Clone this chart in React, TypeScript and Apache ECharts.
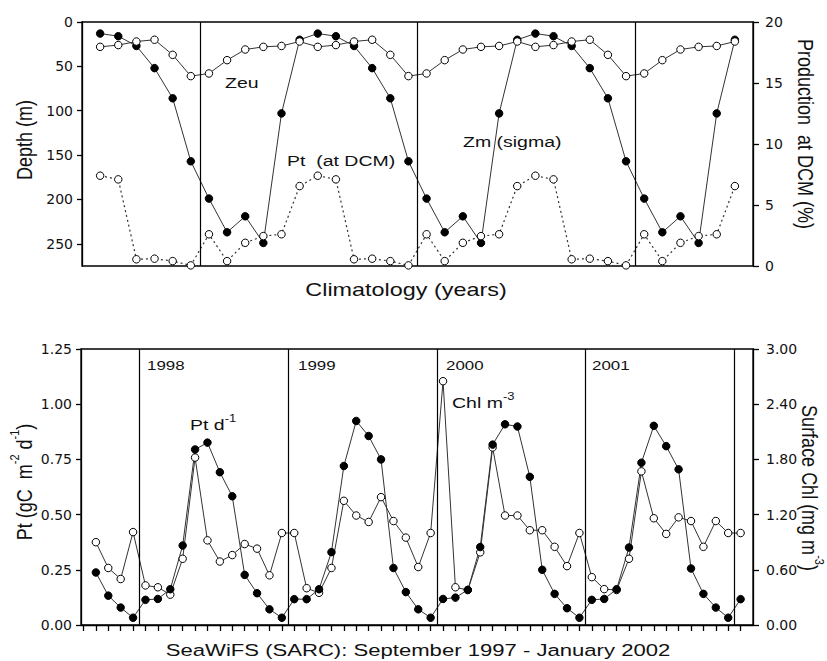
import React, { useEffect, useRef } from "react";
import * as echarts from "echarts";

// ---------- Top panel: climatology (3 repeated years, monthly) ----------
const climMonthIndex = [
  0, 1, 2, 3, 4, 5, 6, 7, 8, 9, 10, 11, 12, 13, 14, 15, 16, 17,
  18, 19, 20, 21, 22, 23, 24, 25, 26, 27, 28, 29, 30, 31, 32, 33, 34, 35,
];
const zmDepth = [
  13, 16, 27, 52, 86, 157, 199, 237, 219, 249, 103, 20,
  13, 16, 27, 52, 86, 157, 199, 237, 219, 249, 103, 20,
  13, 16, 27, 52, 86, 157, 199, 237, 219, 249, 103, 20,
];
const zeuDepth = [
  28, 26, 22, 20, 37, 61, 58, 43, 31, 28, 27, 22,
  28, 26, 22, 20, 37, 61, 58, 43, 31, 28, 27, 22,
  28, 26, 22, 20, 37, 61, 58, 43, 31, 28, 27, 22,
];
const ptDcmPercent = [
  7.4, 7.1, 0.55, 0.6, 0.4, 0.05, 2.6, 0.4, 1.9, 2.45, 2.6, 6.55,
  7.4, 7.1, 0.55, 0.6, 0.4, 0.05, 2.6, 0.4, 1.9, 2.45, 2.6, 6.55,
  7.4, 7.1, 0.55, 0.6, 0.4, 0.05, 2.6, 0.4, 1.9, 2.45, 2.6, 6.55,
];
const climYearBreaks = [5.5, 17.5, 29.5];
const depthTicks = [0, 50, 100, 150, 200, 250];

// ---------- Bottom panel: SeaWiFS Sep 1997 - Jan 2002 ----------
const seawifsMonthIndex = [
  0, 1, 2, 3, 4, 5, 6, 7, 8, 9, 10, 11, 12, 13, 14, 15, 16, 17, 18, 19,
  20, 21, 22, 23, 24, 25, 26, 27, 28, 29, 30, 31, 32, 33, 34, 35, 36, 37,
  38, 39, 40, 41, 42, 43, 44, 45, 46, 47, 48, 49, 50, 51, 52,
];
const ptDaily = [
  0.238, 0.133, 0.079, 0.033,
  0.114, 0.118, 0.162, 0.36, 0.795, 0.826, 0.692, 0.583, 0.227, 0.144, 0.071, 0.033,
  0.117, 0.117, 0.162, 0.33, 0.72, 0.924, 0.856, 0.75, 0.258, 0.149, 0.071, 0.033,
  0.118, 0.124, 0.159, 0.353, 0.817, 0.909, 0.899, 0.671, 0.25, 0.141, 0.076, 0.033,
  0.114, 0.118, 0.162, 0.351, 0.735, 0.902, 0.81, 0.705, 0.256, 0.141, 0.079, 0.033,
  0.117,
];
const surfaceChl = [
  0.9, 0.62, 0.5, 1.01,
  0.43, 0.41, 0.33, 0.72, 1.82, 0.92, 0.69, 0.76, 0.88, 0.83, 0.54, 1.0,
  1.0, 0.4, 0.35, 0.62, 1.35, 1.19, 1.12, 1.39, 1.13, 0.95, 0.63, 1.0,
  2.65, 0.41, 0.38, 0.79, 1.93, 1.19, 1.19, 1.03, 1.03, 0.85, 0.64, 1.0,
  0.52, 0.39, 0.38, 0.72, 1.67, 1.16, 0.99, 1.17, 1.13, 0.85, 1.13, 1.0,
  1.0,
];
const seawifsYearBreaks = [3.5, 15.5, 27.5, 39.5, 51.5];
const seawifsTickMonths = [
  -1, 0, 1, 2, 3, 4, 5, 6, 7, 8, 9, 10, 11, 12, 13, 14, 15, 16, 17, 18, 19,
  20, 21, 22, 23, 24, 25, 26, 27, 28, 29, 30, 31, 32, 33, 34, 35, 36, 37,
  38, 39, 40, 41, 42, 43, 44, 45, 46, 47, 48, 49, 50, 51, 52,
];
const yearLabels = ["1998", "1999", "2000", "2001"];
const yearLabelX = [147, 298, 446, 592];

const FONT = "'Liberation Sans', Arial, sans-serif";
const TICKFONT = "'DejaVu Sans', sans-serif";
const INK = "#111";
const LINE = "#333";
const SX = 1.3;

const zip = (xs: number[], ys: number[]) => xs.map((x, i) => [x, ys[i]]);

function text(x: number, y: number, s: string, size: number, align = "left", extra: any = {}) {
  return {
    type: "text",
    x,
    y,
    scaleX: SX,
    silent: true,
    style: {
      text: s,
      fontSize: size,
      fontFamily: FONT,
      fill: INK,
      align,
      textAlign: align,
      verticalAlign: "middle",
      textVerticalAlign: "middle",
    },
    ...extra,
  };
}

function richText(x: number, y: number, s: string, size: number, supSize: number, align: string, rotation = 0, scaleRot = false) {
  return {
    type: "text",
    x,
    y,
    rotation,
    scaleX: scaleRot ? 1 : SX,
    scaleY: scaleRot ? 1.2 : 1,
    silent: true,
    style: {
      text: s,
      fontSize: size,
      fontFamily: FONT,
      fill: INK,
      align,
      textAlign: align,
      verticalAlign: "middle",
      textVerticalAlign: "middle",
      rich: {
        a: { fontSize: size, fontFamily: FONT, fill: INK, lineHeight: size + 8 },
        s: { fontSize: supSize, fontFamily: FONT, fill: INK, lineHeight: supSize + 2, verticalAlign: "top" },
      },
    },
  };
}

const openSymbol = { color: "#fff", borderColor: "#000", borderWidth: 1 };
const filledSymbol = { color: "#000", borderColor: "#000", borderWidth: 1 };

const axisLabelStyle = { color: INK, fontSize: 14, fontFamily: TICKFONT };
const axisLineStyle = { show: true, onZero: false, lineStyle: { color: "#000", width: 1.3 } };

function breakLines(values: number[]) {
  return {
    silent: true,
    symbol: ["none", "none"],
    label: { show: false },
    lineStyle: { color: "#000", width: 1.2, type: "solid" },
    data: values.map((v) => ({ xAxis: v })),
  };
}

const option: any = {
  animation: false,
  backgroundColor: "#fff",
  grid: [
    { left: 82, right: 74, top: 22, height: 244, show: true, borderColor: "#000", borderWidth: 1.3 },
    { left: 81, right: 74, top: 349, height: 276, show: true, borderColor: "#000", borderWidth: 1.3 },
  ],
  xAxis: [
    {
      gridIndex: 0, type: "value", min: -1, max: 36,
      axisLine: { show: false, onZero: false }, axisTick: { show: false }, axisLabel: { show: false }, splitLine: { show: false },
    },
    {
      gridIndex: 1, type: "value", min: -1.2, max: 53,
      axisLine: axisLineStyle,
      axisTick: { show: true, length: 6, customValues: seawifsTickMonths, lineStyle: { color: "#000", width: 1.3 } },
      axisLabel: { show: false }, splitLine: { show: false },
    },
  ],
  yAxis: [
    {
      gridIndex: 0, type: "value", inverse: true, min: 0, max: 275, position: "left",
      axisLine: axisLineStyle,
      axisTick: { show: true, length: 5, customValues: depthTicks, lineStyle: { color: "#000", width: 1.3 } },
      axisLabel: { ...axisLabelStyle, margin: 9, customValues: depthTicks },
      splitLine: { show: false },
    },
    {
      gridIndex: 0, type: "value", min: 0, max: 20, interval: 5, position: "right",
      axisLine: axisLineStyle,
      axisTick: { show: true, length: 6, lineStyle: { color: "#000", width: 1.3 } },
      axisLabel: { ...axisLabelStyle, margin: 12 },
      splitLine: { show: false },
    },
    {
      gridIndex: 1, type: "value", min: 0, max: 1.25, interval: 0.25, position: "left",
      axisLine: axisLineStyle,
      axisTick: { show: true, length: 5, lineStyle: { color: "#000", width: 1.3 } },
      axisLabel: { ...axisLabelStyle, margin: 9, formatter: (v: number) => v.toFixed(2) },
      splitLine: { show: false },
    },
    {
      gridIndex: 1, type: "value", min: 0, max: 3, interval: 0.6, position: "right",
      axisLine: axisLineStyle,
      axisTick: { show: true, length: 6, lineStyle: { color: "#000", width: 1.3 } },
      axisLabel: { ...axisLabelStyle, margin: 13, formatter: (v: number) => v.toFixed(2) },
      splitLine: { show: false },
    },
  ],
  series: [
    {
      name: "Zm (sigma)", type: "line", xAxisIndex: 0, yAxisIndex: 0,
      data: zip(climMonthIndex, zmDepth),
      symbol: "circle", symbolSize: 7.5, itemStyle: filledSymbol,
      lineStyle: { color: LINE, width: 1 },
      markLine: breakLines(climYearBreaks),
    },
    {
      name: "Zeu", type: "line", xAxisIndex: 0, yAxisIndex: 0,
      data: zip(climMonthIndex, zeuDepth),
      symbol: "circle", symbolSize: 7.5, itemStyle: openSymbol,
      lineStyle: { color: LINE, width: 1 },
    },
    {
      name: "Pt (at DCM)", type: "line", xAxisIndex: 0, yAxisIndex: 1,
      data: zip(climMonthIndex, ptDcmPercent),
      symbol: "circle", symbolSize: 7.5, itemStyle: openSymbol,
      lineStyle: { color: LINE, width: 1.2, type: [2, 3] },
    },
    {
      name: "Chl", type: "line", xAxisIndex: 1, yAxisIndex: 3,
      data: zip(seawifsMonthIndex, surfaceChl),
      symbol: "circle", symbolSize: 7.5, itemStyle: openSymbol,
      lineStyle: { color: LINE, width: 1 },
      markLine: breakLines(seawifsYearBreaks),
    },
    {
      name: "Pt", type: "line", xAxisIndex: 1, yAxisIndex: 2,
      data: zip(seawifsMonthIndex, ptDaily),
      symbol: "circle", symbolSize: 7.5, itemStyle: filledSymbol,
      lineStyle: { color: LINE, width: 1 },
    },
  ],
  graphic: [
    text(225, 83, "Zeu", 15),
    text(287, 161, "Pt  (at DCM)", 15),
    text(463, 142, "Zm (sigma)", 15),
    text(406, 290, "Climatology (years)", 18, "center"),
    ...yearLabels.map((y, i) => text(yearLabelX[i], 365, y, 13)),
    richText(190, 425, "{a|Pt d}{s|-1}", 15, 10, "left"),
    richText(452, 403, "{a|Chl m}{s|-3}", 15, 10, "left"),
    text(418, 650, "SeaWiFS (SARC): September 1997 - January 2002", 17, "center"),
    richText(24, 140, "{a|Depth (m)}", 18, 11, "center", Math.PI / 2, true),
    richText(806, 134, "{a|Production  at DCM (%)}", 18, 11, "center", -Math.PI / 2, true),
    richText(24, 482, "{a|Pt (gC  m}{s|-2}{a| d}{s|-1}{a|)}", 18, 11, "center", Math.PI / 2, true),
    richText(810, 488, "{a|Surface Chl (mg m}{s|-3}{a|)}", 18, 11, "center", -Math.PI / 2, true),
  ],
};

export default function App() {
  const ref = useRef<HTMLDivElement>(null);
  useEffect(() => {
    const chart = echarts.init(ref.current!, undefined, { renderer: "svg" });
    chart.setOption(option);
    return () => chart.dispose();
  }, []);
  return (
    <div
      ref={ref}
      style={{ position: "absolute", left: 0, top: 0, width: 827, height: 661, background: "#fff" }}
    />
  );
}
